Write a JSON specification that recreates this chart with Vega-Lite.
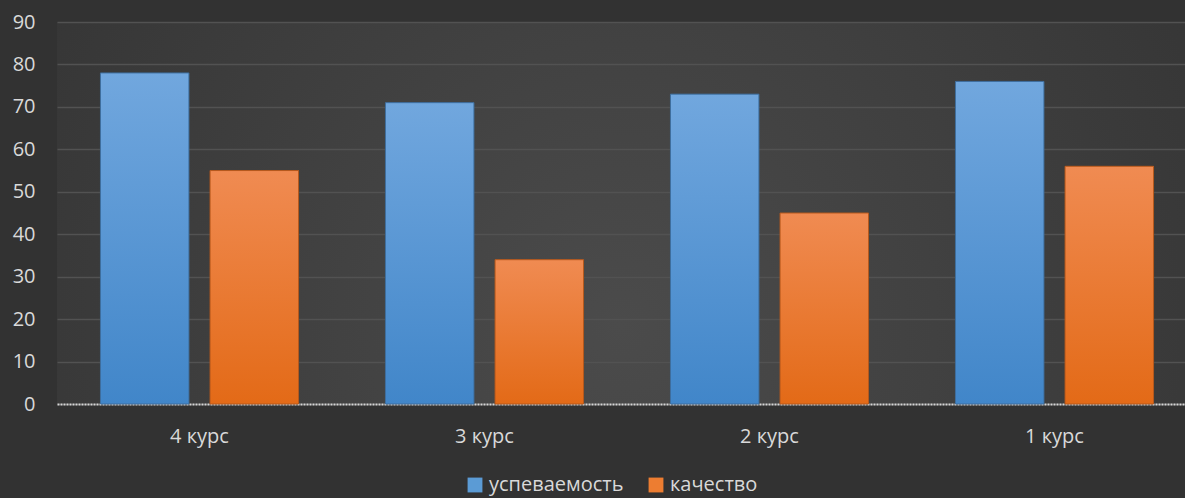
{
  "$schema": "https://vega.github.io/schema/vega-lite/v6.json",
  "width": 1128,
  "height": 382,
  "autosize": {"type": "none"},
  "padding": {"left": 57, "top": 22, "right": 0, "bottom": 94},
  "background": "#323232",
  "config": {
    "view": {
      "stroke": null,
      "fill": {
        "gradient": "radial",
        "x1": 0.5, "y1": 0.6, "r1": 0,
        "x2": 0.5, "y2": 0.6, "r2": 0.75,
        "stops": [
          {"offset": 0, "color": "#4b4b4b"},
          {"offset": 1, "color": "#303030"}
        ]
      }
    },
    "font": "Open Sans",
    "axis": {"labelColor": "#d9d9d9", "labelFontSize": 20, "ticks": false, "title": null}
  },
  "data": {
    "values": [
      {"course": "4 курс", "series": "успеваемость", "value": 78},
      {"course": "4 курс", "series": "качество", "value": 55},
      {"course": "3 курс", "series": "успеваемость", "value": 71},
      {"course": "3 курс", "series": "качество", "value": 34},
      {"course": "2 курс", "series": "успеваемость", "value": 73},
      {"course": "2 курс", "series": "качество", "value": 45},
      {"course": "1 курс", "series": "успеваемость", "value": 76},
      {"course": "1 курс", "series": "качество", "value": 56}
    ]
  },
  "encoding": {
    "x": {
      "field": "course",
      "type": "nominal",
      "sort": ["4 курс", "3 курс", "2 курс", "1 курс"],
      "scale": {"range": [0, 1140], "paddingInner": 0.305, "paddingOuter": 0.1525},
      "axis": {
        "labelAngle": 0,
        "labelPadding": 22,
        "domain": true,
        "domainColor": "#d6d6d6",
        "domainWidth": 2,
        "domainDash": [2, 1],
        "grid": false
      }
    },
    "xOffset": {
      "field": "series",
      "type": "nominal",
      "sort": ["успеваемость", "качество"],
      "scale": {"paddingInner": 0.193, "paddingOuter": 0}
    },
    "y": {
      "field": "value",
      "type": "quantitative",
      "scale": {"domain": [0, 90], "nice": false},
      "axis": {
        "values": [0, 10, 20, 30, 40, 50, 60, 70, 80, 90],
        "domain": false,
        "grid": true,
        "gridColor": "#525252",
        "gridWidth": 1.5,
        "labelPadding": 22
      }
    }
  },
  "layer": [
    {
      "mark": {"type": "bar"},
      "encoding": {
        "color": {
          "field": "series",
          "type": "nominal",
          "scale": {"domain": ["успеваемость", "качество"], "range": ["#5b9bd5", "#ed7d31"]},
          "legend": {
            "orient": "none",
            "legendX": 408,
            "legendY": 453,
            "direction": "horizontal",
            "title": null,
            "symbolType": "square",
            "symbolSize": 220,
            "symbolStrokeWidth": 0,
            "symbolOpacity": 1,
            "labelFontSize": 20,
            "labelColor": "#d9d9d9",
            "columnPadding": 22
          }
        }
      }
    },
    {
      "transform": [{"filter": "datum.series === 'успеваемость'"}],
      "mark": {
        "type": "bar",
        "stroke": "#3e6d9c",
        "strokeWidth": 1,
        "color": {
          "gradient": "linear",
          "x1": 0, "y1": 0, "x2": 0, "y2": 1,
          "stops": [
            {"offset": 0, "color": "#71a7de"},
            {"offset": 1, "color": "#4186c9"}
          ]
        }
      }
    },
    {
      "transform": [{"filter": "datum.series === 'качество'"}],
      "mark": {
        "type": "bar",
        "stroke": "#b5581c",
        "strokeWidth": 1,
        "color": {
          "gradient": "linear",
          "x1": 0, "y1": 0, "x2": 0, "y2": 1,
          "stops": [
            {"offset": 0, "color": "#f08b52"},
            {"offset": 1, "color": "#e36a17"}
          ]
        }
      }
    }
  ]
}
